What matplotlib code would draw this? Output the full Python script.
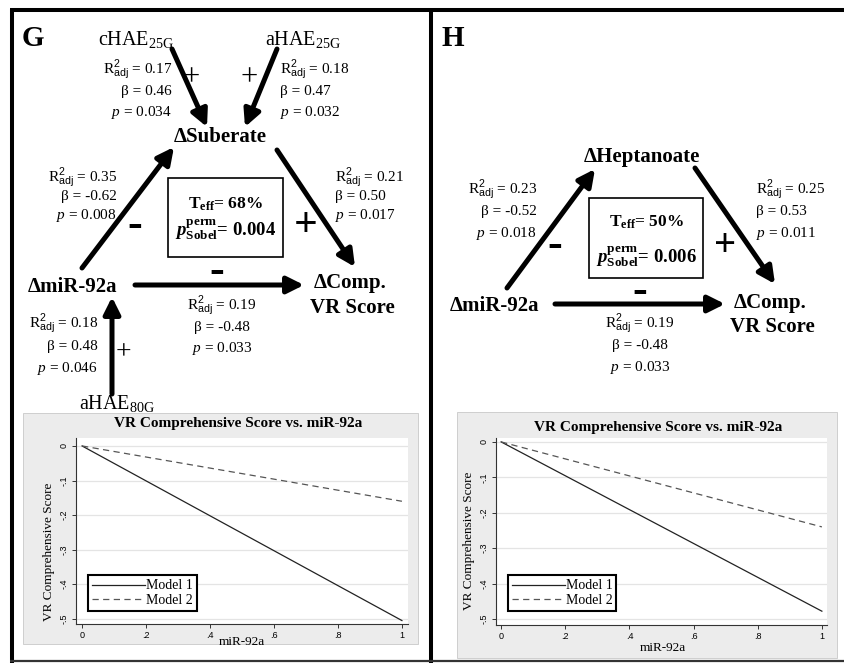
import matplotlib.pyplot as plt
from matplotlib.patches import Rectangle
from matplotlib.ticker import FuncFormatter

plt.rcParams['font.family'] = ['Liberation Serif', 'DejaVu Serif']
plt.rcParams['mathtext.fontset'] = 'custom'
plt.rcParams['mathtext.rm'] = 'Liberation Serif'
plt.rcParams['mathtext.it'] = 'Liberation Serif:italic'
plt.rcParams['mathtext.bf'] = 'Liberation Serif:bold'
plt.rcParams['mathtext.bfit'] = 'Liberation Serif:italic:bold'
plt.rcParams['mathtext.sf'] = 'Liberation Sans'

# path statistics (R2_adj, beta, p)
g_chae25 = ('0.17', '0.46', '0.034')
g_ahae25 = ('0.18', '0.47', '0.032')
g_path_a = ('0.35', '-0.62', '0.008')
g_path_b = ('0.21', '0.50', '0.017')
g_path_c = ('0.19', '-0.48', '0.033')
g_ahae80 = ('0.18', '0.48', '0.046')
h_path_a = ('0.23', '-0.52', '0.018')
h_path_b = ('0.25', '0.53', '0.011')
h_path_c = ('0.19', '-0.48', '0.033')
t_eff = ['68%', '50%']
p_sobel = ['0.004', '0.006']

# fitted lines, VR comprehensive score vs miR-92a
mir = [0, 1]
g_model1 = [0, -0.505]
g_model2 = [0, -0.16]
h_model1 = [0, -0.478]
h_model2 = [0, -0.24]
y_ticks = [0, -0.1, -0.2, -0.3, -0.4, -0.5]
x_ticks = [0, 0.2, 0.4, 0.6, 0.8, 1.0]

W, H = 844, 663
fig = plt.figure(figsize=(W / 100, H / 100), dpi=100)
ax = fig.add_axes([0, 0, 1, 1])
ax.set_xlim(0, W)
ax.set_ylim(H, 0)
ax.axis('off')

# frame lines
ax.plot([10, W], [10, 10], color='black', lw=2.9, solid_capstyle='butt')
ax.plot([12, 12], [9, H], color='black', lw=2.9, solid_capstyle='butt')
ax.plot([431, 431], [9, H], color='black', lw=2.9, solid_capstyle='butt')
ax.plot([10, W], [661, 661], color='#333333', lw=1.6, solid_capstyle='butt')


def stats(x, y, vals, ha, dy=21):
    r2, b, p = vals
    kw = dict(ha=ha, va='baseline', fontsize=11)
    ax.text(x, y, r'R$^{\mathsf{2}}_{\mathsf{adj}}$ = ' + r2, **kw)
    ax.text(x, y + dy, 'β = ' + b, **kw)
    ax.text(x, y + 2 * dy, r'$\mathit{p}$ = ' + p, **kw)


def arrow(tail, tip):
    ax.annotate('', xy=tip, xytext=tail,
                arrowprops=dict(arrowstyle='-|>,head_length=1.0,head_width=0.5',
                                mutation_scale=10, lw=3.6, color='black',
                                shrinkA=0, shrinkB=0))


def node(x, y, s, size=15):
    ax.text(x, y, s, ha='center', va='center', fontsize=size, fontweight='bold')


def sign(x, y, s, bold=True, size=26):
    ax.text(x, y, s, ha='center', va='center', fontsize=size,
            fontweight='bold' if bold else 'normal')


def effect_box(x0, y0, x1, y1, te, ps, yt, yp):
    ax.add_patch(Rectangle((x0, y0), x1 - x0, y1 - y0, fill=False, lw=1.2, ec='black'))
    xc = (x0 + x1) / 2
    ax.text(xc, yt, r'T$_{\mathbf{eff}}$= ' + te, ha='center', va='center',
            fontsize=12.5, fontweight='bold')
    ax.text(xc, yp, r'$\mathbfit{p}^{\mathbf{perm}}_{\mathbf{Sobel}}$= ' + ps,
            ha='center', va='center', fontsize=13.5, fontweight='bold')


# ---- panel G ----
ax.text(22, 38, 'G', ha='left', va='center', fontsize=21, fontweight='bold')
ax.text(136, 40, r'cHAE$_{\mathrm{25G}}$', ha='center', va='center', fontsize=14.5)
ax.text(303, 40, r'aHAE$_{\mathrm{25G}}$', ha='center', va='center', fontsize=14.5)
ax.text(117, 403, r'aHAE$_{\mathrm{80G}}$', ha='center', va='center', fontsize=14.5)
node(220, 137, 'ΔSuberate')
node(72, 287, 'ΔmiR-92a')
node(350, 283, 'ΔComp.')
node(352, 308, 'VR Score')

arrow((172, 49), (207, 127))
arrow((277, 49), (245, 127))
arrow((82, 268), (174, 147))
arrow((277, 150), (355, 267))
arrow((135, 285), (304, 285))
arrow((112, 394), (112, 297))

stats(172, 74, g_chae25, 'right')
stats(280, 74, g_ahae25, 'left')
stats(117, 181, g_path_a, 'right', dy=19)
stats(335, 181, g_path_b, 'left', dy=19)
stats(222, 310, g_path_c, 'center')
stats(98, 328, g_ahae80, 'right', dy=22)

sign(191, 78, '+', bold=False, size=22)
sign(249, 78, '+', bold=False, size=22)
sign(135, 226, '-', size=32)
sign(306, 226, '+', size=30)
sign(217, 272, '-', size=32)
sign(123, 353, '+', bold=False, size=20)
effect_box(168, 178, 283, 257, t_eff[0], p_sobel[0], 204, 230)

# ---- panel H ----
ax.text(441, 38, 'H', ha='left', va='center', fontsize=21, fontweight='bold')
node(642, 157, 'ΔHeptanoate')
node(494, 306, 'ΔmiR-92a')
node(770, 303, 'ΔComp.')
node(772, 327, 'VR Score')

arrow((507, 288), (595, 169))
arrow((695, 168), (775, 284))
arrow((555, 304), (725, 304))

stats(537, 193, h_path_a, 'right', dy=22)
stats(756, 193, h_path_b, 'left', dy=22)
stats(640, 328, h_path_c, 'center', dy=21.5)

sign(555, 246, '-', size=32)
sign(725, 246, '+', size=28)
sign(640, 292, '-', size=32)
effect_box(589, 198, 703, 278, t_eff[1], p_sobel[1], 222, 257)


# ---- line plots ----
def px_axes(l, r, t, b):
    return fig.add_axes([l / W, 1 - b / H, (r - l) / W, (b - t) / H])


def strip_zero(v, _):
    s = f'{v:g}'
    return s.replace('0.', '.') if s not in ('0', '1') else s


def vr_plot(pax, m1, m2, xlim, ylim, ylab_xy, xlab_xy, leg_xy):
    pax.set_facecolor('white')
    for yv in y_ticks:
        pax.axhline(yv, color='#e4e4e4', lw=0.9, zorder=0)
    pax.plot(mir, m1, color='#222222', lw=0.9, label='Model 1')
    pax.plot(mir, m2, color='#555555', lw=0.9, ls=(0, (5, 3.5)), label='Model 2')
    pax.set_xlim(*xlim)
    pax.set_ylim(*ylim)
    pax.set_xticks(x_ticks)
    pax.set_yticks(y_ticks)
    pax.xaxis.set_major_formatter(FuncFormatter(strip_zero))
    pax.yaxis.set_major_formatter(FuncFormatter(strip_zero))
    for s in ('top', 'right'):
        pax.spines[s].set_visible(False)
    for s in ('left', 'bottom'):
        pax.spines[s].set_color('#333333')
        pax.spines[s].set_linewidth(0.8)
    pax.tick_params(length=3, width=0.7, color='#333333', labelsize=6.5, pad=2)
    for lab in pax.get_xticklabels() + pax.get_yticklabels():
        lab.set_fontfamily('Liberation Sans')
    for lab in pax.get_yticklabels():
        lab.set_rotation(90)
        lab.set_va('center')
    pax.set_ylabel('VR Comprehensive Score', fontsize=9.5)
    pax.yaxis.set_label_coords(*ylab_xy)
    pax.set_xlabel('miR-92a', fontsize=9.5)
    pax.xaxis.set_label_coords(*xlab_xy)
    leg = pax.legend(loc='lower left', bbox_to_anchor=leg_xy, fontsize=10,
                     handlelength=3.8, handletextpad=0.05, labelspacing=0.1,
                     borderpad=0.3, borderaxespad=0, fancybox=False, framealpha=1)
    leg.get_frame().set_edgecolor('black')
    leg.get_frame().set_linewidth(1.5)


# stata-like graph regions
ax.add_patch(Rectangle((23, 413), 395, 231, fc='#ececec', ec='#c8c8c8', lw=0.6))
ax.add_patch(Rectangle((457, 412), 380, 246, fc='#ececec', ec='#c8c8c8', lw=0.6))
ax.text(238, 423, 'VR Comprehensive Score vs. miR-92a', ha='center', va='center',
        fontsize=11, fontweight='bold')
ax.text(658, 428, 'VR Comprehensive Score vs. miR-92a', ha='center', va='center',
        fontsize=11, fontweight='bold')

ax_g = px_axes(76, 408, 438, 624)
vr_plot(ax_g, g_model1, g_model2, (-0.019, 1.019), (-0.515, 0.023),
        (-0.063, 0.387), (0.5, -0.066), (0.036, 0.07))

ax_h = px_axes(496, 827, 438, 625)
vr_plot(ax_h, h_model1, h_model2, (-0.016, 1.016), (-0.517, 0.011),
        (-0.063, 0.45), (0.505, -0.09), (0.036, 0.075))

fig.savefig('out.png', dpi=100)
